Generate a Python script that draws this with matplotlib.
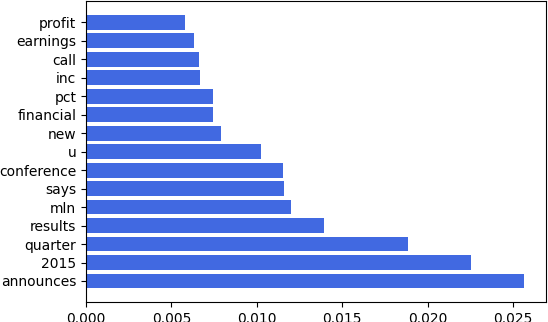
import matplotlib
matplotlib.use('Agg')
import matplotlib.pyplot as plt

# word weights, drawn bottom-up
words = ['announces', '2015', 'quarter', 'results', 'mln', 'says', 'conference',
         'u', 'new', 'financial', 'pct', 'inc', 'call', 'earnings', 'profit']
weights = [0.02566, 0.02251, 0.01887, 0.01391, 0.01199, 0.01158, 0.01152,
           0.01023, 0.00788, 0.00741, 0.00741, 0.00666, 0.00660, 0.00631, 0.00582]

fig, ax = plt.subplots(figsize=(5.48, 3.22), dpi=100)
fig.subplots_adjust(left=0.157, right=0.997, top=0.996, bottom=0.062)

ax.barh(words, weights, color='royalblue')
ax.set_xticks([0.0, 0.005, 0.01, 0.015, 0.02, 0.025])

fig.savefig('out.png', dpi=100)
